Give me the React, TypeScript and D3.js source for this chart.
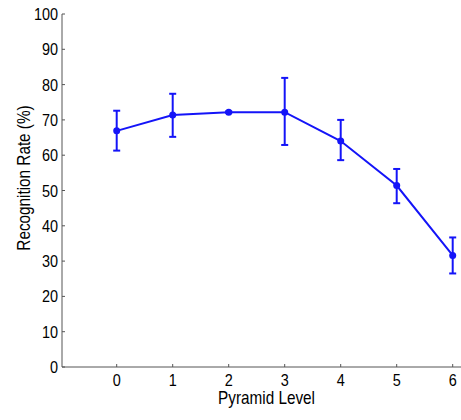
import React, { useEffect, useRef } from 'react';
import * as d3 from 'd3';

const levels = [0, 1, 2, 3, 4, 5, 6];
const rates = [66.9, 71.4, 72.2, 72.2, 64.0, 51.4, 31.6];
const upper = [72.6, 77.4, 72.4, 81.9, 70.0, 56.1, 36.7];
const lower = [61.3, 65.2, 72.0, 62.9, 58.6, 46.4, 26.5];
const yTicks = [0, 10, 20, 30, 40, 50, 60, 70, 80, 90, 100];

const App = () => {
  const svgRef = useRef<SVGSVGElement>(null);

  useEffect(() => {
    const svg = d3.select(svgRef.current);
    svg.selectAll('*').remove();

    const left = 62, top = 14, bottom = 367;
    const font = '"Liberation Sans", Arial, sans-serif';
    const blue = '#1414f8';
    const squeeze = 0.85;

    // x(0) ~ 116.7px, x(6) ~ 452.7px
    const x = d3.scaleLinear().domain([0, 6]).range([116.7, 452.7]);
    const y = d3.scaleLinear().domain([0, 100]).range([bottom, top]);

    const g = svg.append('g');

    // narrow text helper
    const label = (px: number, py: number, txt: string | number, size: number, anchor: string, rot = 0) =>
      g.append('text')
        .attr('transform', `translate(${px},${py}) rotate(${rot}) scale(${squeeze},1)`)
        .attr('text-anchor', anchor)
        .attr('font-family', font)
        .attr('font-size', size)
        .attr('fill', '#000')
        .text(txt);

    // axes
    g.append('line')
      .attr('x1', left).attr('x2', left).attr('y1', top).attr('y2', bottom)
      .attr('stroke', '#555').attr('stroke-width', 1);
    g.append('line')
      .attr('x1', left).attr('x2', 461).attr('y1', bottom).attr('y2', bottom)
      .attr('stroke', '#555').attr('stroke-width', 1);

    yTicks.forEach(t => {
      g.append('line')
        .attr('x1', left).attr('x2', left + 3).attr('y1', y(t)).attr('y2', y(t))
        .attr('stroke', '#555');
      label(58, y(t) + 6, t, 17, 'end');
    });

    levels.forEach(t => {
      g.append('line')
        .attr('x1', x(t)).attr('x2', x(t)).attr('y1', bottom).attr('y2', bottom - 3)
        .attr('stroke', '#555');
      label(x(t), 386, t, 17, 'middle');
    });

    label(266.5, 404, 'Pyramid Level', 18, 'middle');
    label(30, 178, 'Recognition Rate (%)', 18, 'middle', -90);

    // error bars
    levels.forEach((l, i) => {
      const cx = x(l);
      g.append('line')
        .attr('x1', cx).attr('x2', cx).attr('y1', y(upper[i])).attr('y2', y(lower[i]))
        .attr('stroke', blue).attr('stroke-width', 2);
      [upper[i], lower[i]].forEach(v => {
        g.append('line')
          .attr('x1', cx - 3.5).attr('x2', cx + 3.5).attr('y1', y(v)).attr('y2', y(v))
          .attr('stroke', blue).attr('stroke-width', 2);
      });
    });

    const line = d3.line<number>()
      .x((d, i) => x(levels[i]))
      .y(d => y(d));

    g.append('path')
      .datum(rates)
      .attr('d', line)
      .attr('fill', 'none')
      .attr('stroke', blue)
      .attr('stroke-width', 2);

    g.selectAll('circle.pt')
      .data(rates)
      .enter()
      .append('circle')
      .attr('class', 'pt')
      .attr('cx', (d, i) => x(levels[i]))
      .attr('cy', d => y(d))
      .attr('r', 3.5)
      .attr('fill', blue);
  }, []);

  return (
    <svg
      ref={svgRef}
      width={461}
      height={420}
      style={{ position: 'absolute', left: 0, top: 0, background: '#fff' }}
    />
  );
};

export default App;
